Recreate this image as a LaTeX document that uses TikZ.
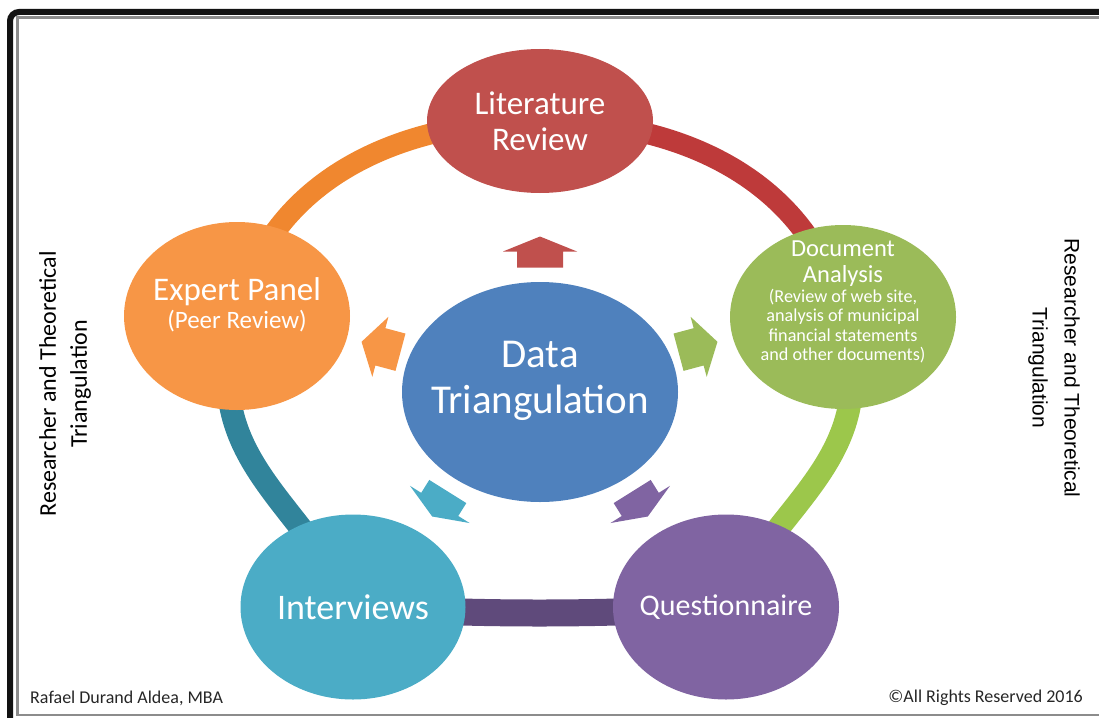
\documentclass[tikz,border=0pt]{standalone}
\usepackage{fontspec}
\setmainfont{Carlito}
\newfontfamily\sidefont{Liberation Sans}
\usetikzlibrary{shapes.geometric,backgrounds}

\definecolor{litred}{HTML}{C0504D}
\definecolor{docgreen}{HTML}{9BBB59}
\definecolor{questpurple}{HTML}{8064A2}
\definecolor{intteal}{HTML}{4BACC6}
\definecolor{expertorange}{HTML}{F79646}
\definecolor{datablue}{HTML}{4F81BD}
\definecolor{redband}{HTML}{BE3A3A}
\definecolor{greenband}{HTML}{9CC74B}
\definecolor{purpleband}{HTML}{5F4A7B}
\definecolor{tealband}{HTML}{31849B}
\definecolor{orangeband}{HTML}{F0872F}

\tikzset{bubble/.style={ellipse, fill=#1, inner sep=0pt},
    loopband/.style={draw=#1, line width=23pt},
    txt/.style={text=white, align=center, inner sep=0pt},
    feed/.pic={\fill[#1] (-15.5,-23) -- (0.5,-23) -- (0.5,-37) -- (15.5,0)
        -- (0.5,37) -- (0.5,23) -- (-15.5,23) -- cycle;},
    }

\begin{document}
\begin{tikzpicture}[x=1pt, y=-1pt]
	\useasboundingbox (0,0) rectangle (1099,717);
	\clip (0,0) rectangle (1099,717);
	% frame
	\draw[line width=6pt, rounded corners=9pt, black!93] (10,12) rectangle (1140,760);
	\draw[line width=2.5pt, black!45] (17.5,17.5) rectangle (1120,715);

	% the five sources round the centre
	\node[bubble=litred, minimum width=226pt, minimum height=144pt] (lit) at (540,121) {};
	\node[bubble=docgreen, minimum width=226pt, minimum height=184pt] (doc) at (843,317) {};
	\node[bubble=questpurple, minimum width=226pt, minimum height=185pt] (quest) at (726,607) {};
	\node[bubble=intteal, minimum width=225pt, minimum height=185pt] (interv) at (353,607) {};
	\node[bubble=expertorange, minimum width=226pt, minimum height=188pt] (expert) at (237,316) {};
	\node[bubble=datablue, minimum width=276pt, minimum height=220pt] (data) at (540,392) {};

	\node[txt, font=\fontsize{33}{36}\selectfont] at (lit) {Literature\\Review};
	\node[txt, font=\fontsize{18.2}{19.5}\selectfont] at ([yshift=15]doc)
		{\fontsize{24.5}{26}\selectfont Document\\[6.5pt]
		\fontsize{24.5}{26}\selectfont Analysis\\
		(Review of web site,\\
		analysis of municipal\\
		financial statements\\
		and other documents)};
	\node[txt, font=\fontsize{30}{32}\selectfont] at (quest) {Questionnaire};
	\node[txt, font=\fontsize{36}{40}\selectfont] at (interv) {Interviews};
	\node[txt, font=\fontsize{33}{28}\selectfont] at ([yshift=11]expert) {Expert Panel\\
		\fontsize{25}{28}\selectfont (Peer Review)};
	\node[txt, font=\fontsize{41}{46}\selectfont] at ([yshift=11]data) {Data\\Triangulation};

	% the loop behind them
	\begin{scope}[on background layer]
	\draw[loopband=orangeband, line width=21pt] (expert.center) .. controls +(30,-130) and +(-150,0) .. (lit.center);
	\draw[loopband=redband, line width=21pt] (lit.center) .. controls +(150,0) and +(-30,-130) .. (doc.center);
	\draw[loopband=greenband] (doc.center) .. controls +(40,140) and +(55,-110) .. (quest.center);
	\draw[loopband=purpleband, line width=27pt] (quest.center) .. controls +(-120,8) and +(120,8) .. (interv.center);
	\draw[loopband=tealband] (interv.center) .. controls +(-55,-110) and +(-40,140) .. (expert.center);
	\end{scope}

	% arrows out of the centre
	\pic[rotate=90] at (540,252) {feed=litred};
	\pic[rotate=15, xscale=1.3, yscale=0.84] at (698,347) {feed=docgreen};
	\pic[rotate=-58, scale=0.95] at (640,504) {feed=questpurple};
	\pic[rotate=-122, scale=0.95] at (440,504) {feed=intteal};
	\pic[rotate=165, xscale=1.3, yscale=0.84] at (381,347) {feed=expertorange};

	\node[rotate=90, align=center, inner sep=0pt, font=\fontsize{24}{31}\selectfont] (lefttxt) at (65,384)
		{Researcher and Theoretical\\Triangulation};
	\node[rotate=-90, align=center, inner sep=0pt, font=\sidefont\fontsize{21}{32}\selectfont] (righttxt) at (1054,368)
		{Researcher and Theoretical\\Triangulation};

	\node[anchor=base west, inner sep=0pt, text=black!85, font=\fontsize{18}{20}\selectfont] (author) at (30,703)
		{Rafael Durand Aldea, MBA};
	\node[anchor=base east, inner sep=0pt, text=black!85, font=\fontsize{18}{20}\selectfont] (rights) at (1083,702)
		{©All Rights Reserved 2016};
\end{tikzpicture}
\end{document}
